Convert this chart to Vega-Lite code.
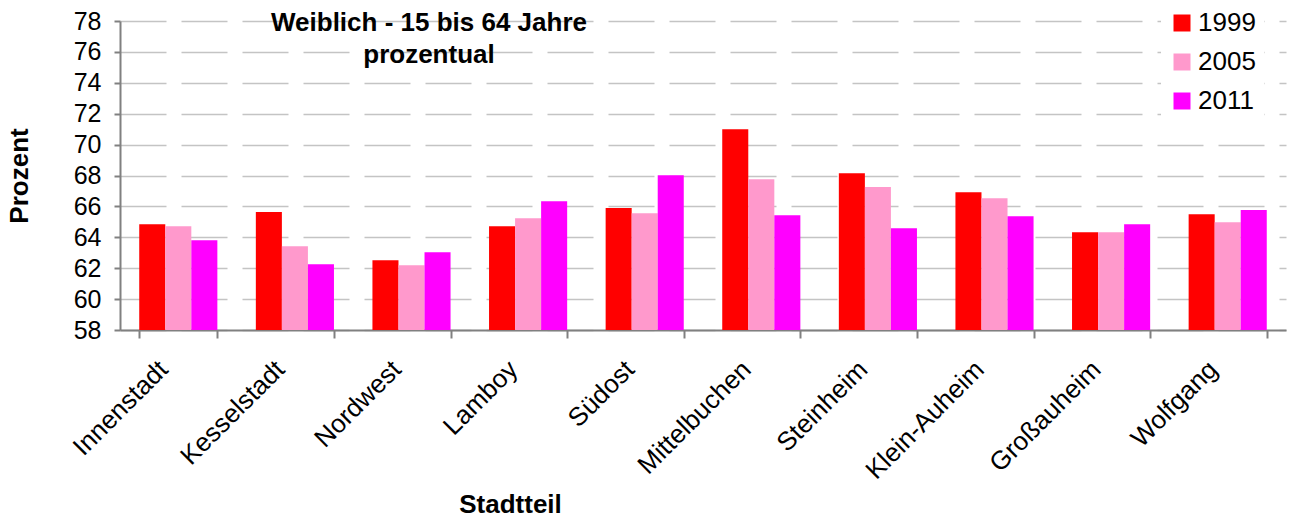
{
  "$schema": "https://vega.github.io/schema/vega-lite/v6.json",
  "autosize": {"type": "none"},
  "width": 1166,
  "height": 309,
  "padding": {"left": 120, "top": 21, "right": 5, "bottom": 188},
  "background": "white",
  "title": {
    "text": ["Weiblich - 15 bis 64 Jahre", "prozentual"],
    "orient": "top",
    "anchor": "middle",
    "align": "center",
    "dx": -274,
    "offset": -66,
    "fontSize": 26,
    "fontWeight": "bold",
    "font": "Liberation Sans",
    "lineHeight": 32,
    "color": "black"
  },
  "data": {
    "values": [
      {"Stadtteil": "Innenstadt", "Jahr": "1999", "Prozent": 64.85},
      {"Stadtteil": "Innenstadt", "Jahr": "2005", "Prozent": 64.72},
      {"Stadtteil": "Innenstadt", "Jahr": "2011", "Prozent": 63.81},
      {"Stadtteil": "Kesselstadt", "Jahr": "1999", "Prozent": 65.63},
      {"Stadtteil": "Kesselstadt", "Jahr": "2005", "Prozent": 63.42},
      {"Stadtteil": "Kesselstadt", "Jahr": "2011", "Prozent": 62.26},
      {"Stadtteil": "Nordwest", "Jahr": "1999", "Prozent": 62.52},
      {"Stadtteil": "Nordwest", "Jahr": "2005", "Prozent": 62.19},
      {"Stadtteil": "Nordwest", "Jahr": "2011", "Prozent": 63.03},
      {"Stadtteil": "Lamboy", "Jahr": "1999", "Prozent": 64.72},
      {"Stadtteil": "Lamboy", "Jahr": "2005", "Prozent": 65.24},
      {"Stadtteil": "Lamboy", "Jahr": "2011", "Prozent": 66.34},
      {"Stadtteil": "Südost", "Jahr": "1999", "Prozent": 65.89},
      {"Stadtteil": "Südost", "Jahr": "2005", "Prozent": 65.56},
      {"Stadtteil": "Südost", "Jahr": "2011", "Prozent": 68.02},
      {"Stadtteil": "Mittelbuchen", "Jahr": "1999", "Prozent": 71.0},
      {"Stadtteil": "Mittelbuchen", "Jahr": "2005", "Prozent": 67.76},
      {"Stadtteil": "Mittelbuchen", "Jahr": "2011", "Prozent": 65.43},
      {"Stadtteil": "Steinheim", "Jahr": "1999", "Prozent": 68.15},
      {"Stadtteil": "Steinheim", "Jahr": "2005", "Prozent": 67.25},
      {"Stadtteil": "Steinheim", "Jahr": "2011", "Prozent": 64.59},
      {"Stadtteil": "Klein-Auheim", "Jahr": "1999", "Prozent": 66.92},
      {"Stadtteil": "Klein-Auheim", "Jahr": "2005", "Prozent": 66.53},
      {"Stadtteil": "Klein-Auheim", "Jahr": "2011", "Prozent": 65.37},
      {"Stadtteil": "Großauheim", "Jahr": "1999", "Prozent": 64.33},
      {"Stadtteil": "Großauheim", "Jahr": "2005", "Prozent": 64.33},
      {"Stadtteil": "Großauheim", "Jahr": "2011", "Prozent": 64.85},
      {"Stadtteil": "Wolfgang", "Jahr": "1999", "Prozent": 65.5},
      {"Stadtteil": "Wolfgang", "Jahr": "2005", "Prozent": 64.98},
      {"Stadtteil": "Wolfgang", "Jahr": "2011", "Prozent": 65.76}
    ]
  },
  "mark": {"type": "bar", "clip": true},
  "encoding": {
    "x": {
      "field": "Stadtteil",
      "type": "nominal",
      "sort": null,
      "scale": {"paddingInner": 0.33, "paddingOuter": 0.165},
      "axis": {
        "title": "Stadtteil",
        "titleFontSize": 26,
        "titleFontWeight": "bold",
        "titleFont": "Liberation Sans",
        "titleColor": "black",
        "titlePadding": 8,
        "titleX": 390,
        "titleAlign": "center",
        "labelAngle": -45,
        "labelAlign": "right",
        "labelBaseline": "middle",
        "labelFontSize": 26,
        "labelFont": "Liberation Sans",
        "labelColor": "black",
        "labelPadding": 27,
        "labelOffset": -15,
        "tickBand": "extent",
        "tickSize": 8,
        "tickColor": "#808080",
        "tickWidth": 2,
        "domainColor": "#808080",
        "domainWidth": 2,
        "grid": false
      }
    },
    "xOffset": {"field": "Jahr", "type": "nominal", "scale": {"paddingInner": 0, "paddingOuter": 0}},
    "y": {
      "field": "Prozent",
      "type": "quantitative",
      "scale": {"domain": [58, 78], "zero": false, "nice": false},
      "axis": {
        "title": "Prozent",
        "titleFontSize": 26,
        "titleFontWeight": "bold",
        "titleFont": "Liberation Sans",
        "titleColor": "black",
        "titlePadding": 41,
        "values": [58, 60, 62, 64, 66, 68, 70, 72, 74, 76, 78],
        "labelFontSize": 25,
        "labelFont": "Liberation Sans",
        "labelColor": "black",
        "labelPadding": 13,
        "tickSize": 6,
        "tickColor": "#808080",
        "tickWidth": 2,
        "domainColor": "#808080",
        "domainWidth": 2,
        "grid": true,
        "gridColor": "#c4c4c4",
        "gridWidth": 1.5,
        "gridDash": [46, 15]
      }
    },
    "color": {
      "field": "Jahr",
      "type": "nominal",
      "scale": {"domain": ["1999", "2005", "2011"], "range": ["#FF0000", "#FF99CC", "#FF00FF"]},
      "legend": {
        "title": null,
        "orient": "none",
        "legendX": 1041,
        "legendY": -19,
        "fillColor": "white",
        "padding": 8,
        "symbolType": "square",
        "symbolSize": 289,
        "symbolStrokeWidth": 0,
        "symbolOpacity": 1,
        "labelFontSize": 26,
        "labelFont": "Liberation Sans",
        "labelColor": "black",
        "labelOffset": 3,
        "rowPadding": 13
      }
    }
  },
  "config": {"view": {"stroke": null}}
}
